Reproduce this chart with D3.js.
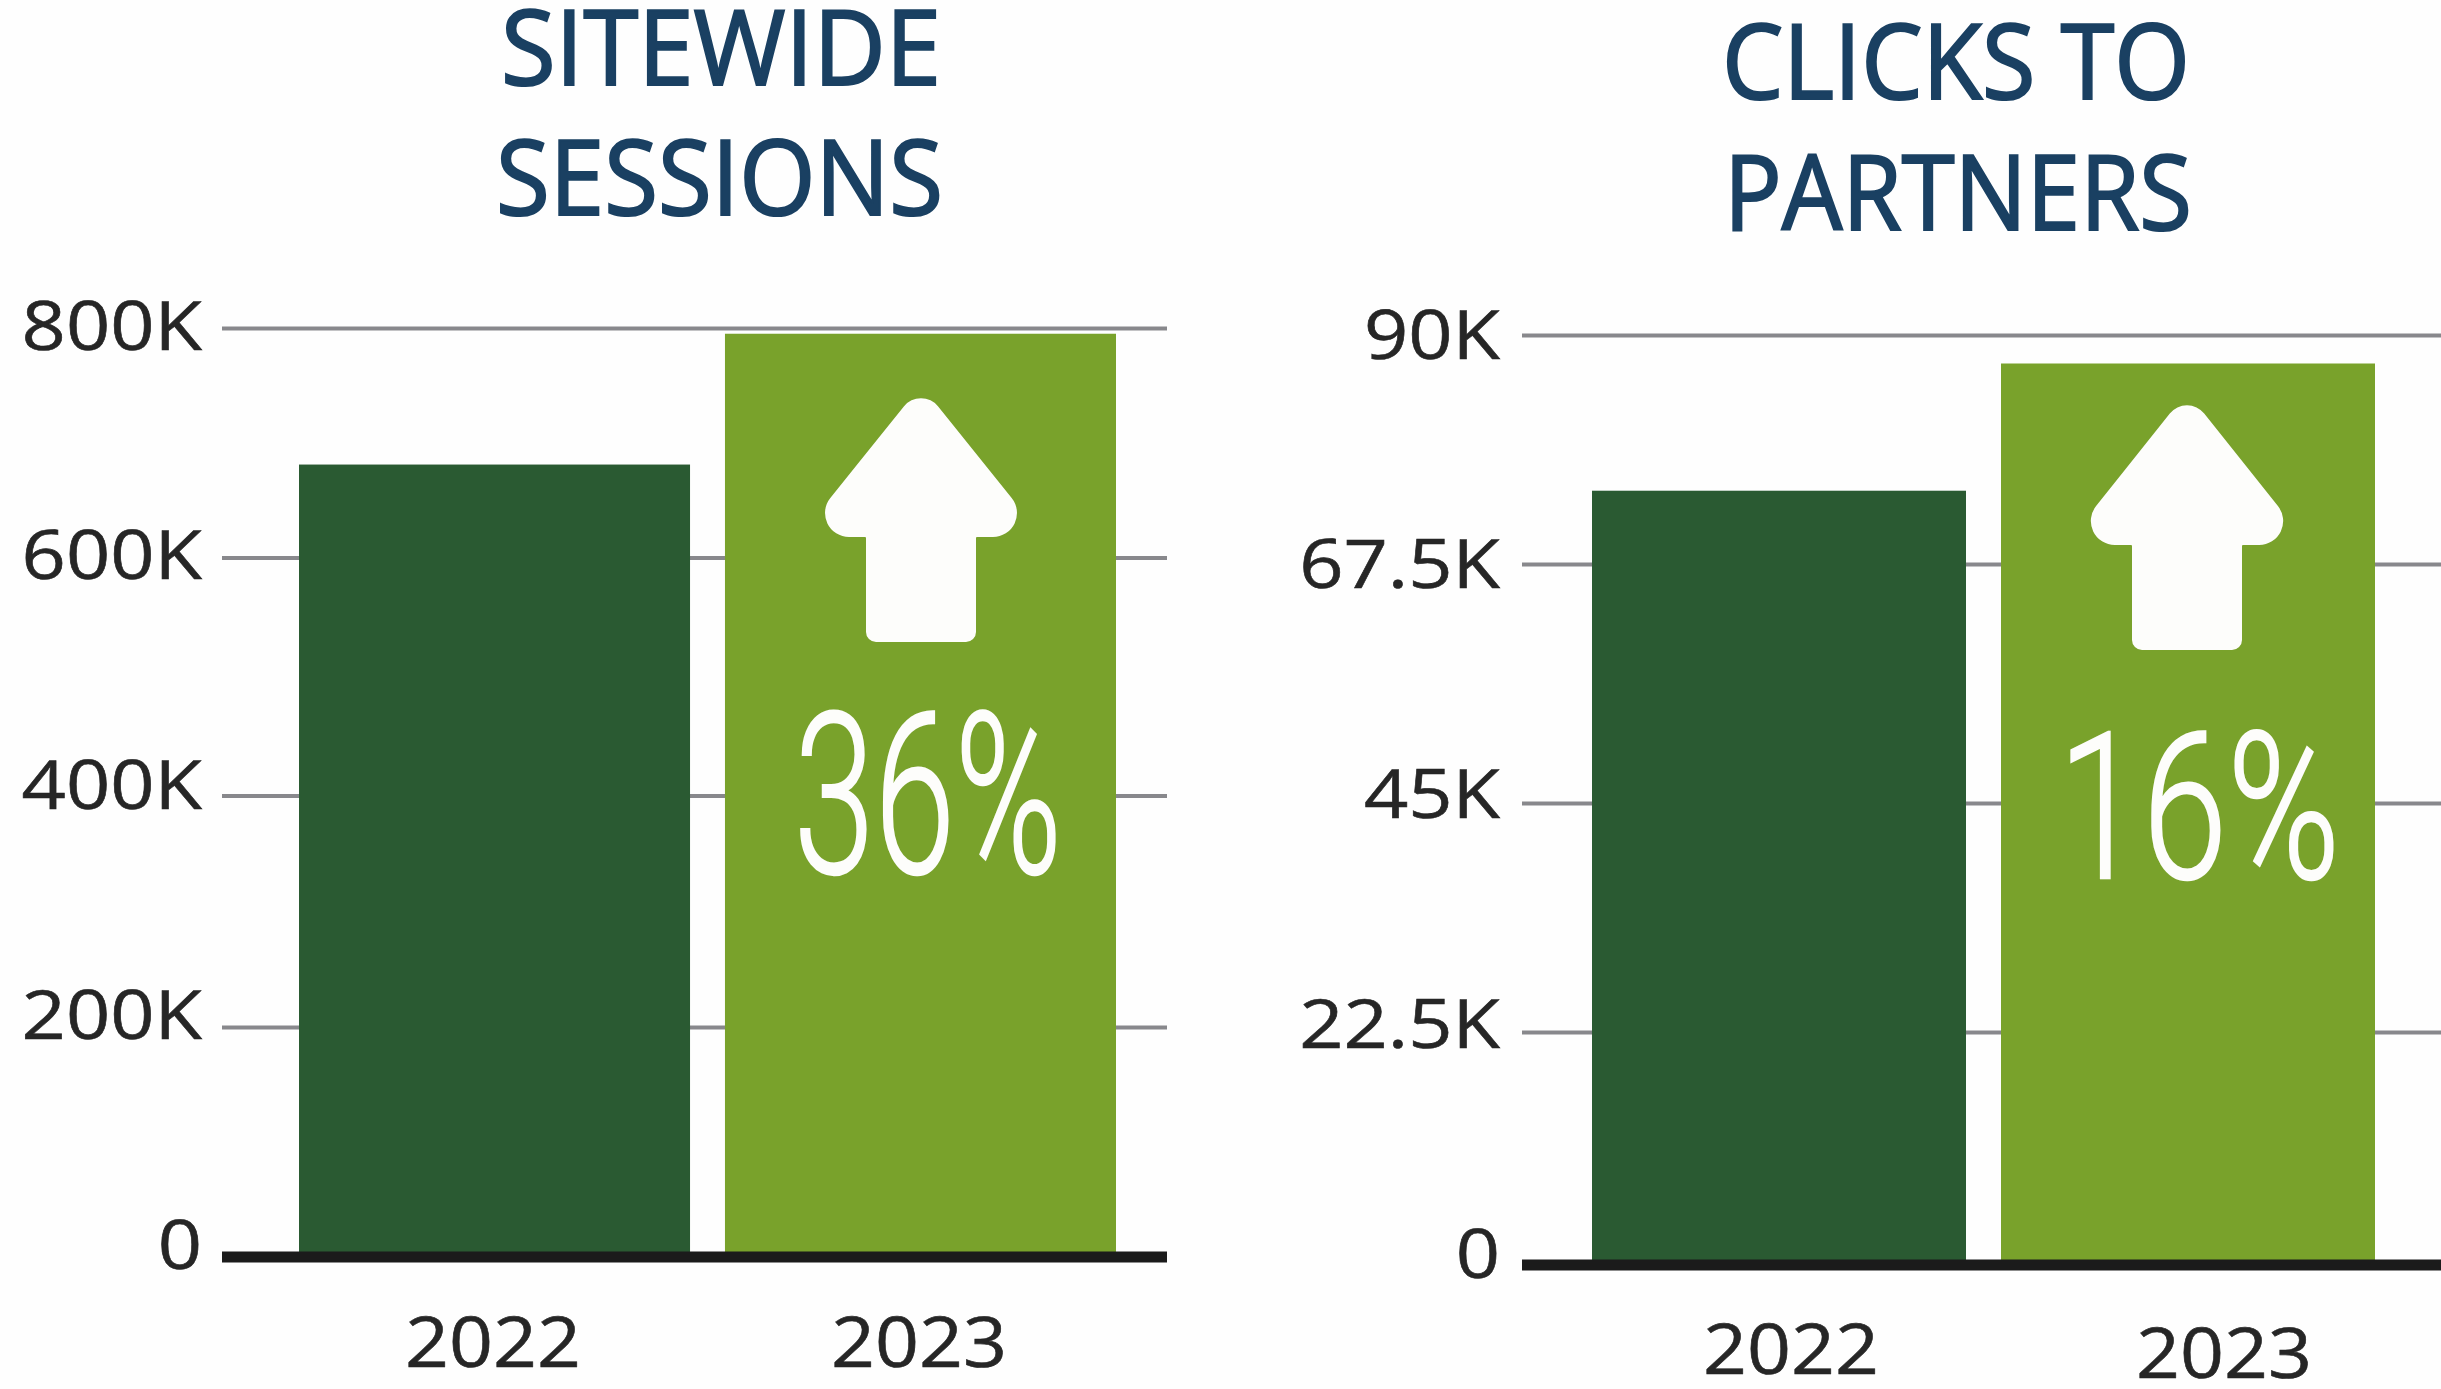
<!DOCTYPE html>
<html><head><meta charset="utf-8">
<script src="https://cdn.jsdelivr.net/npm/d3@7"></script>
<style>html,body{margin:0;padding:0;background:#fefefe;overflow:hidden}svg{display:block}</style>
</head><body><svg id="c" width="2441" height="1389"></svg>
<script>
// Data
const years = ["2022", "2023"];
const sessionsValues = [681000, 795000];
const clicksValues = [74700, 87200];
const sessionsTicks = [0, 200000, 400000, 600000, 800000];
const clicksTicks = [0, 22500, 45000, 67500, 90000];
const sessionsTickLabels = ["0", "200K", "400K", "600K", "800K"];
const clicksTickLabels = ["0", "22.5K", "45K", "67.5K", "90K"];
const sessionsTitle = ["SITEWIDE", "SESSIONS"];
const clicksTitle = ["CLICKS TO", "PARTNERS"];
const sessionsChange = "36%";
const clicksChange = "16%";

// Layout and style
const colors = {dark:"#2a5a32", light:"#79a22b", grid:"#88888c", base:"#1b1b1b", text:"#262626", title:"#1a4062"};
const layoutA = {
  barX:[299,1116], inner:0.082, gridX:[222,1167], gridY:[1257,1027,795.6,557.5,328], labelRight:202, labelY:[1268,349],
  yearX:[493,919], yearY:[1367,1367], titleBoxes:[[501,941,85],[496,943,215]],
  arrow:{cx:921,tip:385,headY:537,headW:122,shaftW:55,bottom:642},
  pct:{x:[794,1062],y:873,size:225}
};
const layoutB = {
  barX:[1592,2375], inner:0.0856, gridX:[1522,2441], gridY:[1265,1032,803,564,335], labelRight:1500, labelY:[1277,358],
  yearX:[1791,2224], yearY:[1374,1378], titleBoxes:[[1722,2190,99],[1724,2192,230]],
  arrow:{cx:2187,tip:392,headY:545,headW:122,shaftW:55,bottom:650},
  pct:{x:[2058,2340],y:878,size:204}
};
const svg = d3.select("#c");
svg.append("rect").attr("width",2441).attr("height",1389).attr("fill","#fefefe");
const SANS = "'Open Sans', sans-serif";

function fit(sel, x0, x1){
  sel.attr("textLength", x1-x0).attr("lengthAdjust","spacingAndGlyphs");
}

function arrowPath(a){
  const pts = [
    [a.cx, a.tip, 22],
    [a.cx+a.headW, a.headY, 24],
    [a.cx+a.shaftW, a.headY, 1],
    [a.cx+a.shaftW, a.bottom, 10],
    [a.cx-a.shaftW, a.bottom, 10],
    [a.cx-a.shaftW, a.headY, 1],
    [a.cx-a.headW, a.headY, 24]
  ];
  const p = d3.path(), n = pts.length;
  p.moveTo((pts[0][0]+pts[n-1][0])/2,(pts[0][1]+pts[n-1][1])/2);
  for(let i=0;i<n;i++){
    const c=pts[i], nx=pts[(i+1)%n];
    p.arcTo(c[0],c[1],nx[0],nx[1],c[2]);
  }
  p.closePath();
  return p.toString();
}

function panel(values, ticks, tickLabels, title, change, L){
  const g = svg.append("g");
  const y = d3.scaleLinear().domain(ticks).range(L.gridY);
  const yLabel = d3.scaleLinear().domain([ticks[0],ticks[ticks.length-1]]).range(L.labelY);
  const x = d3.scaleBand().domain(years).range(L.barX).paddingInner(L.inner).paddingOuter(0);
  const w = L.gridX[1]-L.gridX[0];

  const grid = g.append("g").attr("transform",`translate(${L.gridX[0]},0)`)
    .call(d3.axisRight(y).tickValues(ticks.slice(1)).tickSize(w).tickFormat(""));
  grid.select(".domain").remove();
  grid.selectAll("line").attr("stroke",colors.grid).attr("stroke-width",4);

  g.selectAll("rect.bar").data(values).join("rect").attr("class","bar")
    .attr("x",(d,i)=>x(years[i])).attr("width",x.bandwidth())
    .attr("y",d=>y(d)).attr("height",d=>y(0)-y(d))
    .attr("fill",(d,i)=>i===0?colors.dark:colors.light);

  g.append("line").attr("x1",L.gridX[0]).attr("x2",L.gridX[1]).attr("y1",y(0)).attr("y2",y(0))
    .attr("stroke",colors.base).attr("stroke-width",11);

  const lab = g.append("g").attr("transform",`translate(${L.labelRight},0)`)
    .call(d3.axisLeft(yLabel).tickValues(ticks).tickSize(0).tickPadding(0)
      .tickFormat((d,i)=>tickLabels[i]));
  lab.select(".domain").remove();
  lab.selectAll("text").attr("dy",0).attr("fill",colors.text)
    .style("font-family",SANS).style("font-size","68px")
    .style("stroke",colors.text).style("stroke-width","0.6px")
    .each(function(){ const n=this.getComputedTextLength();
      d3.select(this).attr("textLength",n*1.14).attr("lengthAdjust","spacingAndGlyphs"); });

  g.selectAll("text.year").data(years).join("text").attr("class","year")
    .attr("x",(d,i)=>L.yearX[i]).attr("y",(d,i)=>L.yearY[i]).attr("text-anchor","middle")
    .attr("fill",colors.text).style("font-family",SANS).style("font-size","69px").text(d=>d)
    .style("stroke",colors.text).style("stroke-width","0.6px")
    .attr("textLength",176).attr("lengthAdjust","spacingAndGlyphs");

  g.selectAll("text.title").data(title).join("text").attr("class","title")
    .attr("x",(d,i)=>L.titleBoxes[i][0]).attr("y",(d,i)=>L.titleBoxes[i][2])
    .attr("fill",colors.title).style("font-family",SANS).style("font-size","105px").text(d=>d)
    .style("stroke",colors.title).style("stroke-width","2.2px")
    .each(function(d,i){ fit(d3.select(this),L.titleBoxes[i][0],L.titleBoxes[i][1]); });

  g.append("path").attr("d",arrowPath(L.arrow)).attr("fill","#fdfdfb");
  const t = g.append("text").attr("x",L.pct.x[0]).attr("y",L.pct.y).text(change)
    .attr("fill","#fdfdfb").attr("stroke","#fdfdfb").attr("stroke-width",2.5)
    .style("font-family","Roboto, sans-serif").style("font-weight",300)
    .style("font-size",L.pct.size+"px");
  fit(t,L.pct.x[0],L.pct.x[1]);
}
panel(sessionsValues,sessionsTicks,sessionsTickLabels,sessionsTitle,sessionsChange,layoutA);
panel(clicksValues,clicksTicks,clicksTickLabels,clicksTitle,clicksChange,layoutB);
</script></body></html>
